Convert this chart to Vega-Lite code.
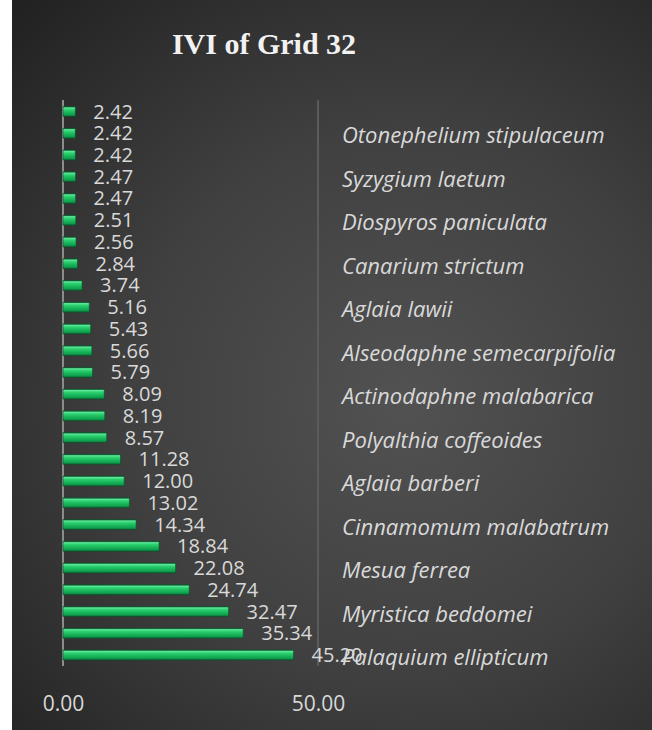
{
  "$schema": "https://vega.github.io/schema/vega-lite/v6.json",
  "autosize": "none",
  "width": 640,
  "height": 730,
  "padding": {"left": 12, "top": 0, "right": 0, "bottom": 0},
  "background": "white",
  "config": {
    "view": {
      "stroke": null,
      "fill": {"gradient": "radial", "x1": 0.6, "y1": 0.55, "r1": 0, "x2": 0.6, "y2": 0.55, "r2": 0.75,
        "stops": [{"offset": 0, "color": "#525252"}, {"offset": 0.5, "color": "#404040"}, {"offset": 1, "color": "#222222"}]}
    },
    "font": "Open Sans"
  },
  "title": {
    "text": "IVI of Grid 32",
    "font": "Liberation Serif",
    "fontSize": 30,
    "fontWeight": "bold",
    "color": "#f2f2f2",
    "anchor": "middle",
    "frame": "group",
    "orient": "top",
    "baseline": "alphabetic",
    "offset": -53,
    "dx": -68,
    "dy": 31
  },
  "data": {
    "values": [
      {"rank": 1, "species": "Palaquium ellipticum", "ivi": 45.20},
      {"rank": 2, "species": "", "ivi": 35.34},
      {"rank": 3, "species": "Myristica beddomei", "ivi": 32.47},
      {"rank": 4, "species": "", "ivi": 24.74},
      {"rank": 5, "species": "Mesua ferrea", "ivi": 22.08},
      {"rank": 6, "species": "", "ivi": 18.84},
      {"rank": 7, "species": "Cinnamomum malabatrum", "ivi": 14.34},
      {"rank": 8, "species": "", "ivi": 13.02},
      {"rank": 9, "species": "Aglaia barberi", "ivi": 12.00},
      {"rank": 10, "species": "", "ivi": 11.28},
      {"rank": 11, "species": "Polyalthia coffeoides", "ivi": 8.57},
      {"rank": 12, "species": "", "ivi": 8.19},
      {"rank": 13, "species": "Actinodaphne malabarica", "ivi": 8.09},
      {"rank": 14, "species": "", "ivi": 5.79},
      {"rank": 15, "species": "Alseodaphne semecarpifolia", "ivi": 5.66},
      {"rank": 16, "species": "", "ivi": 5.43},
      {"rank": 17, "species": "Aglaia lawii", "ivi": 5.16},
      {"rank": 18, "species": "", "ivi": 3.74},
      {"rank": 19, "species": "Canarium strictum", "ivi": 2.84},
      {"rank": 20, "species": "", "ivi": 2.56},
      {"rank": 21, "species": "Diospyros paniculata", "ivi": 2.51},
      {"rank": 22, "species": "", "ivi": 2.47},
      {"rank": 23, "species": "Syzygium laetum", "ivi": 2.47},
      {"rank": 24, "species": "", "ivi": 2.42},
      {"rank": 25, "species": "Otonephelium stipulaceum", "ivi": 2.42},
      {"rank": 26, "species": "", "ivi": 2.42}
    ]
  },
  "layer": [
    {
      "mark": {"type": "rule", "color": "#5c5c5c", "strokeWidth": 1},
      "encoding": {
        "x": {"datum": 50, "type": "quantitative", "scale": {"domain": [-10, 115.49], "nice": false, "zero": false},
          "axis": {"values": [0, 50], "format": ".2f", "title": null, "grid": false, "ticks": false, "tickSize": 0, "domain": false,
            "labelFontSize": 21, "labelColor": "#d9d9d9", "labelFont": "Open Sans", "labelBaseline": "alphabetic", "labelPadding": 10, "offset": -30, "labelFlush": false}},
        "y": {"datum": 0.5, "type": "quantitative", "scale": {"domain": [-2.221, 30.9], "nice": false, "zero": false}, "axis": null},
        "y2": {"datum": 26.5}
      }
    },
    {
      "mark": {"type": "rule", "color": "#8c8c8c", "strokeWidth": 2},
      "encoding": {
        "x": {"datum": 0, "type": "quantitative"},
        "y": {"datum": 0.5, "type": "quantitative"},
        "y2": {"datum": 26.5}
      }
    },
    {
      "mark": {"type": "bar", "orient": "horizontal", "size": 10, "stroke": "#0a4f28", "strokeWidth": 0.6,
        "color": {"gradient": "linear", "x1": 0, "y1": 0, "x2": 0, "y2": 1,
          "stops": [{"offset": 0, "color": "#0a6b33"}, {"offset": 0.14, "color": "#5fe69a"}, {"offset": 0.32, "color": "#2dd06f"}, {"offset": 0.58, "color": "#19b85c"}, {"offset": 0.82, "color": "#10a04f"}, {"offset": 1, "color": "#0a6b33"}]}},
      "encoding": {
        "x": {"field": "ivi", "type": "quantitative"},
        "x2": {"datum": 0},
        "y": {"field": "rank", "type": "quantitative"}
      }
    },
    {
      "mark": {"type": "text", "align": "left", "baseline": "middle", "dx": 18, "dy": 1, "fontSize": 20, "color": "#d9d9d9", "font": "Open Sans"},
      "encoding": {
        "x": {"field": "ivi", "type": "quantitative"},
        "y": {"field": "rank", "type": "quantitative"},
        "text": {"field": "ivi", "type": "quantitative", "format": ".2f"}
      }
    },
    {
      "mark": {"type": "text", "align": "left", "baseline": "middle", "dx": 24, "dy": 3, "fontSize": 22, "fontStyle": "italic", "color": "#d9d9d9", "font": "Open Sans"},
      "encoding": {
        "x": {"datum": 50, "type": "quantitative"},
        "y": {"field": "rank", "type": "quantitative"},
        "text": {"field": "species", "type": "nominal"}
      }
    }
  ]
}
